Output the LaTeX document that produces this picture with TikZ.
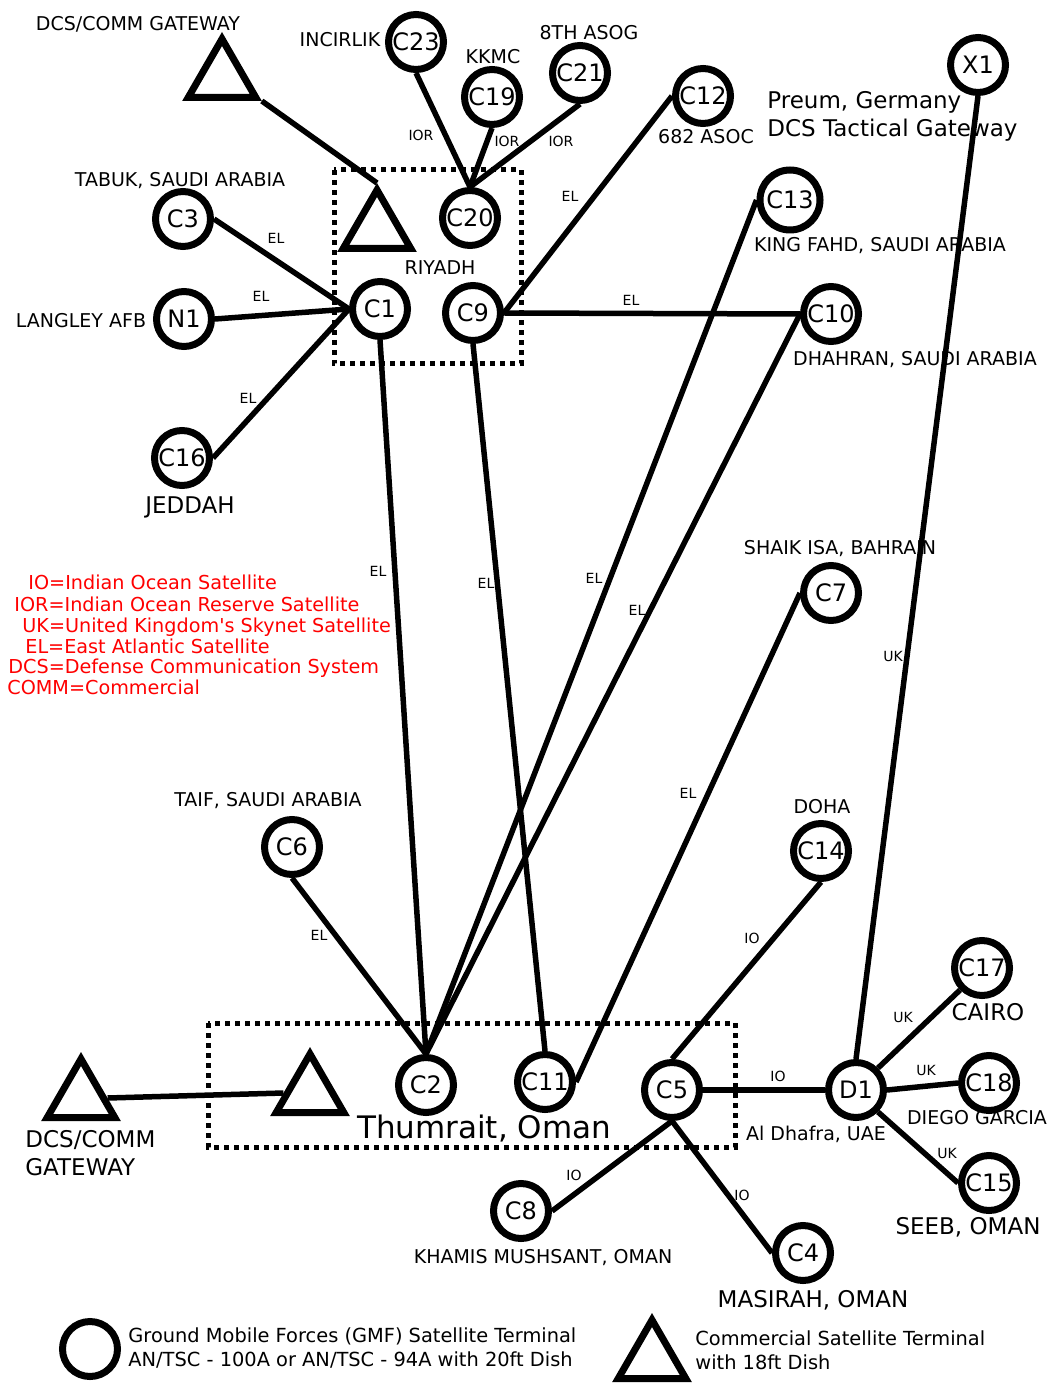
\documentclass[tikz,border=0pt]{standalone}
\usepackage{fontspec}
\setmainfont{DejaVu Sans}
\usetikzlibrary{shapes.geometric}

\tikzset{
  term/.style={circle, draw, line width=3.5pt, minimum size=27.5pt, inner sep=0pt,
    font=\fontsize{12}{14}\selectfont},
  comm/.style={regular polygon, regular polygon sides=3, draw, line width=3.5pt,
    minimum size=39pt, inner sep=0pt},
  link/.style={line width=2.75pt},
  site/.style={line width=2.5pt, dash pattern=on 2.5pt off 2.5pt},
  lbl/.style={font=\fontsize{7}{8}\selectfont, inner sep=0pt},
  place/.style={font=\fontsize{9.5}{11}\selectfont, inner sep=0pt},
  bigplace/.style={font=\fontsize{11.5}{14}\selectfont, inner sep=0pt, align=left},
  key/.style={font=\fontsize{9.6}{11}\selectfont, text=red, inner sep=0pt, anchor=base west},
  legendtext/.style={font=\fontsize{9.7}{12}\selectfont, inner sep=0pt, align=left, anchor=west},
}

\begin{document}
\begin{tikzpicture}[x=0.5pt, y=-0.5pt]
\useasboundingbox (0,0) rectangle (1053,1384);

% sites
\draw[site] (334,170) rectangle (521,364);
\draw[site] (208,1023) rectangle (735,1147);

% GMF terminals
\node[term] (C23) at (416,42) {C23};
\node[term] (C19) at (492,97) {C19};
\node[term] (C21) at (580,73) {C21};
\node[term] (C12) at (703,96) {C12};
\node[term] (X1) at (978,65) {X1};
\node[term] (C20) at (470,218) {C20};
\node[term] (C3) at (183,219) {C3};
\node[term] (N1) at (184,319) {N1};
\node[term] (C1) at (380,309) {C1};
\node[term] (C9) at (473,313) {C9};
\node[term, minimum size=30pt] (C13) at (790,200) {C13};
\node[term] (C10) at (831,314) {C10};
\node[term] (C16) at (182,458) {C16};
\node[term] (C7) at (831,593) {C7};
\node[term] (C6) at (292,847) {C6};
\node[term] (C14) at (821,851) {C14};
\node[term] (C17) at (982,968) {C17};
\node[term] (C2) at (426,1085) {C2};
\node[term] (C11) at (545,1082) {C11};
\node[term] (C5) at (672,1090) {C5};
\node[term] (D1) at (856,1090) {D1};
\node[term] (C18) at (989,1083) {C18};
\node[term] (C15) at (989,1183) {C15};
\node[term] (C8) at (521,1211) {C8};
\node[term] (C4) at (803,1253) {C4};

% commercial terminals
\node[comm] (gwtop) at (222,78) {};
\node[comm] (riy) at (377,229) {};
\node[comm] (gwlow) at (81,1098) {};
\node[comm] (thu) at (310,1093) {};

% place names
\node[place] (ngwtop) at (138,24) {DCS/COMM GATEWAY};
\node[place] (nC23) at (340,40) {INCIRLIK};
\node[place] (nC19) at (493,57) {KKMC};
\node[place] (nC21) at (589,33) {8TH ASOG};
\node[place] (nC12) at (706,137) {682 ASOC};
\node[bigplace, anchor=west] (nX1) at (767,116) {Preum, Germany\\DCS Tactical Gateway};
\node[place] (nC3) at (180,181) {TABUK, SAUDI ARABIA};
\node[place] (nriy) at (440,268) {RIYADH};
\node[place] (nN1) at (81,321) {LANGLEY AFB};
\node[bigplace] (nC16) at (190,507) {JEDDAH};
\node[place] (nC13) at (880,246) {KING FAHD, SAUDI ARABIA};
\node[place] (nC10) at (915,360) {DHAHRAN, SAUDI ARABIA};
\node[place] (nC7) at (840,549) {SHAIK ISA, BAHRAIN};
\node[place] (nC6) at (268,801) {TAIF, SAUDI ARABIA};
\node[place] (nC14) at (822,807) {DOHA};
\node[bigplace] (nC17) at (988,1012) {CAIRO};
\node[place] (nC18) at (977,1118) {DIEGO GARCIA};
\node[place] (nD1) at (816,1134) {Al Dhafra, UAE};
\node[bigplace] (nC15) at (968,1227) {SEEB, OMAN};
\node[place] (nC8) at (543,1258) {KHAMIS MUSHSANT, OMAN};
\node[bigplace] (nC4) at (813,1300) {MASIRAH, OMAN};
\node[font=\fontsize{15.5}{18}\selectfont, inner sep=0pt] (nthu) at (484,1129) {Thumrait, Oman};
\node[bigplace, anchor=west] (ngwlow) at (25,1153) {DCS/COMM\\GATEWAY};

% links
\draw[link] (gwtop.corner 3) -- (riy.corner 1);
\draw[link] (C23.south) -- (C20.north);
\draw[link] (C19.south) -- (C20.north);
\draw[link] (C21.south) -- (C20.north);
\draw[link] (C12.west) -- (C9.east);
\draw[link] (C3.east) -- (C1.west);
\draw[link] (N1.east) -- (C1.west);
\draw[link] (C16.east) -- (C1.west);
\draw[link] (C9.east) -- (C10.west);
\draw[link] (C1.south) -- (C2.north);
\draw[link] (C9.south) -- (C11.north);
\draw[link] (C13.west) -- (C2.north);
\draw[link] (C10.west) -- (C2.north);
\draw[link] (C7.west) -- (C11.east);
\draw[link] (X1.south) -- (D1.north);
\draw[link] (C6.south) -- (C2.north);
\draw[link] (C14.south) -- (C5.north);
\draw[link] (C5.east) -- (D1.west);
\draw[link] (D1.north east) -- (C17.south west);
\draw[link] (D1.east) -- (C18.west);
\draw[link] (D1.south east) -- (C15.west);
\draw[link] (C5.south) -- (C8.east);
\draw[link] (C5.south) -- (C4.west);
\draw[link] (gwlow.east) -- (thu.west);

% satellite on each link
\node[lbl] (sC23) at (421,135) {IOR};
\node[lbl] (sC19) at (507,141) {IOR};
\node[lbl] (sC21) at (561,141) {IOR};
\node[lbl] (sC12) at (570,196) {EL};
\node[lbl] (sC3) at (276,238) {EL};
\node[lbl] (sN1) at (261,296) {EL};
\node[lbl] (sC16) at (248,398) {EL};
\node[lbl] (sC10) at (631,300) {EL};
\node[lbl] (sC1) at (378,571) {EL};
\node[lbl] (sC9) at (486,583) {EL};
\node[lbl] (sC13) at (594,578) {EL};
\node[lbl] (sC10b) at (637,610) {EL};
\node[lbl] (sC7) at (688,793) {EL};
\node[lbl] (sX1) at (893,656) {UK};
\node[lbl] (sC6) at (319,935) {EL};
\node[lbl] (sC14) at (752,938) {IO};
\node[lbl] (sD1) at (778,1076) {IO};
\node[lbl] (sC17) at (903,1017) {UK};
\node[lbl] (sC18) at (926,1070) {UK};
\node[lbl] (sC15) at (947,1153) {UK};
\node[lbl] (sC8) at (574,1175) {IO};
\node[lbl] (sC4) at (742,1195) {IO};

% abbreviations
\node[key] (k1) at (28,589) {IO=Indian Ocean Satellite};
\node[key] (k2) at (14,611) {IOR=Indian Ocean Reserve Satellite};
\node[key] (k3) at (22,632) {UK=United Kingdom\textquotesingle s Skynet Satellite};
\node[key] (k4) at (25,653) {EL=East Atlantic Satellite};
\node[key] (k5) at (8,673) {DCS=Defense Communication System};
\node[key] (k6) at (7,694) {COMM=Commercial};

% legend
\node[term] (keyterm) at (90,1349) {};
\node[legendtext] (keytermtxt) at (128,1348)
  {Ground Mobile Forces (GMF) Satellite Terminal\\AN/TSC - 100A or AN/TSC - 94A with 20ft Dish};
\node[comm] (keycomm) at (652,1359) {};
\node[legendtext] (keycommtxt) at (695,1350)
  {Commercial Satellite Terminal\\with 18ft Dish};
\end{tikzpicture}
\end{document}
